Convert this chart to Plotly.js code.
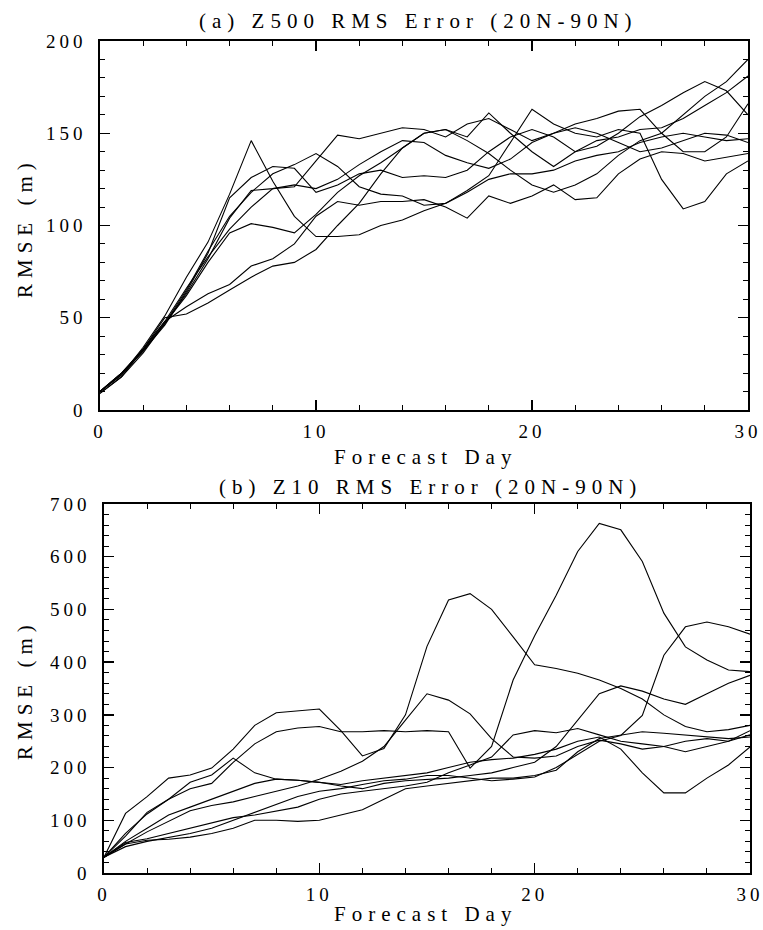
<!DOCTYPE html>
<html>
<head>
<meta charset="utf-8">
<script src="https://cdn.plot.ly/plotly-3.0.1.min.js"></script>
<style>
  html, body { margin: 0; padding: 0; background: #fff; }
  #chart { width: 763px; height: 930px; }
  .annotation-text { letter-spacing: 6px; }
  .xtick text, .ytick text, .x2tick text, .y2tick text { letter-spacing: 4px; }
</style>
</head>
<body>
<div id="chart"></div>
<script>
// Forecast day (0..30)
const days = [0,1,2,3,4,5,6,7,8,9,10,11,12,13,14,15,16,17,18,19,20,21,22,23,24,25,26,27,28,29,30];

// Panel (a): Z500 RMSE (m), one array per forecast
const z500_1 = [10,19,34,51,72,91,117,146,124,105,94,94,95,100,103,108,112,119,127,145,163,155,150,148,152,150,125,109,113,128,135];
const z500_2 = [9,18,31,47,62,80,96,101,99,96,106,118,127,134,142,150,152,148,161,150,140,132,140,146,148,152,153,158,165,172,181];
const z500_3 = [9,18,33,50,52,58,65,72,78,80,87,100,112,128,142,150,152,146,139,130,122,118,122,128,138,146,150,160,170,178,190];
const z500_4 = [10,20,33,48,56,63,68,78,82,90,105,113,111,113,113,114,110,104,116,112,116,122,114,115,128,136,140,139,135,137,139];
const z500_5 = [10,20,32,47,65,86,105,118,128,133,139,132,121,117,116,111,112,118,125,128,128,130,135,138,140,145,148,150,148,146,147];
const z500_6 = [10,20,32,46,64,85,115,126,132,131,118,122,128,130,126,127,126,130,140,148,152,148,140,143,150,159,165,172,178,173,160];
const z500_7 = [10,20,33,48,66,83,98,110,120,121,135,149,147,150,153,152,148,155,158,152,146,150,155,158,162,163,150,140,140,148,166];
const z500_8 = [10,19,32,47,63,82,104,119,120,122,120,125,133,140,146,145,138,134,131,136,145,150,153,150,145,140,142,146,150,149,145];

// Panel (b): Z10 RMSE (m), one array per forecast
const z10_1 = [30,113,145,180,186,199,235,280,304,308,311,270,222,236,300,430,518,530,500,448,395,388,379,366,350,330,300,278,268,272,280];
const z10_2 = [30,75,112,140,160,170,210,245,268,275,278,268,268,270,268,270,268,199,240,366,450,527,610,663,651,591,493,429,404,385,382];
const z10_3 = [30,55,78,98,118,128,135,145,155,165,178,193,212,240,290,340,328,302,255,220,218,222,240,252,245,235,240,250,255,250,262];
const z10_4 = [30,50,60,68,75,85,100,115,130,145,155,160,168,175,178,185,185,180,175,178,182,200,225,250,261,299,413,467,476,467,453];
const z10_5 = [30,60,85,110,125,140,155,170,178,176,172,168,175,180,185,190,200,210,215,218,225,235,250,258,235,190,152,152,180,205,239];
const z10_6 = [30,70,115,140,172,186,218,190,178,176,172,165,160,170,175,178,180,185,190,200,210,240,290,340,355,345,330,320,340,360,375];
const z10_7 = [30,58,65,75,85,95,105,110,118,125,140,150,155,160,165,172,190,205,220,262,270,266,274,262,250,245,240,230,240,250,270];
const z10_8 = [30,55,62,64,68,75,85,100,100,98,100,110,120,140,160,165,170,175,180,180,185,195,230,255,262,268,265,262,258,255,258];

const z500Series = [z500_1, z500_2, z500_3, z500_4, z500_5, z500_6, z500_7, z500_8];
const z10Series = [z10_1, z10_2, z10_3, z10_4, z10_5, z10_6, z10_7, z10_8];

const lineStyle = {color: '#000', width: 1.1};
const traces = [];
z500Series.forEach(v => traces.push({x: days, y: v, xaxis: 'x', yaxis: 'y', mode: 'lines', line: lineStyle, hoverinfo: 'skip'}));
z10Series.forEach(v => traces.push({x: days, y: v, xaxis: 'x2', yaxis: 'y2', mode: 'lines', line: lineStyle, hoverinfo: 'skip'}));

const W = 763, H = 930;
const FONT = 'Liberation Serif, Times New Roman, serif';
const tickFont = {family: FONT, size: 19, color: '#000'};
const titleFont = {family: FONT, size: 21, color: '#000'};

function xax(d0, d1, anchor) {
  return {
    anchor: anchor, domain: [d0 / W, d1 / W], range: [0, 30],
    tickvals: [0,10,20,30], ticktext: ['0','10','20','30'],
    ticks: 'inside', ticklen: 10, tickwidth: 1.3, tickcolor: '#000',
    minor: {dtick: 2, tick0: 0, ticks: 'inside', ticklen: 5, tickwidth: 1, tickcolor: '#000', showgrid: false},
    showline: true, linecolor: '#000', linewidth: 1.6, mirror: 'ticks', showgrid: false, zeroline: false,
    tickfont: tickFont, fixedrange: true, ticklabelstandoff: 4, ticklabeloverflow: 'allow'
  };
}
function yax(top, bot, max, major, minorStep, anchor) {
  const vals = [];
  for (let v = 0; v <= max; v += major) vals.push(v);
  return {
    anchor: anchor, domain: [1 - bot / H, 1 - top / H], range: [0, max],
    tickvals: vals, ticktext: vals.map(String),
    ticks: 'inside', ticklen: 10, tickwidth: 1.3, tickcolor: '#000',
    minor: {dtick: minorStep, tick0: 0, ticks: 'inside', ticklen: 5, tickwidth: 1, tickcolor: '#000', showgrid: false},
    showline: true, linecolor: '#000', linewidth: 1.6, mirror: 'ticks', showgrid: false, zeroline: false,
    tickfont: tickFont, fixedrange: true, ticklabelstandoff: 8, ticklabeloverflow: 'allow'
  };
}

function ann(text, xpx, ypx, rot) {
  return {text: text, x: xpx / W, y: 1 - ypx / H, xref: 'paper', yref: 'paper',
    xanchor: 'center', yanchor: 'middle', showarrow: false, font: titleFont, textangle: rot || 0};
}

const layout = {
  width: W, height: H, margin: {l: 0, r: 0, t: 0, b: 0},
  paper_bgcolor: '#fff', plot_bgcolor: '#fff', showlegend: false,
  xaxis: xax(100, 748, 'y'),
  yaxis: yax(41, 410, 200, 50, 10, 'x'),
  xaxis2: xax(104, 750, 'y2'),
  yaxis2: yax(504, 873, 700, 100, 20, 'x2'),
  annotations: [
    ann('(a) Z500 RMS Error (20N-90N)', 418, 21),
    ann('Forecast Day', 425, 457),
    ann('RMSE (m)', 25, 228, -90),
    ann('(b) Z10 RMS Error (20N-90N)', 431, 487),
    ann('Forecast Day', 426, 914),
    ann('RMSE (m)', 25, 690, -90)
  ]
};

Plotly.newPlot('chart', traces, layout, {staticPlot: true, displayModeBar: false});
</script>
</body>
</html>
